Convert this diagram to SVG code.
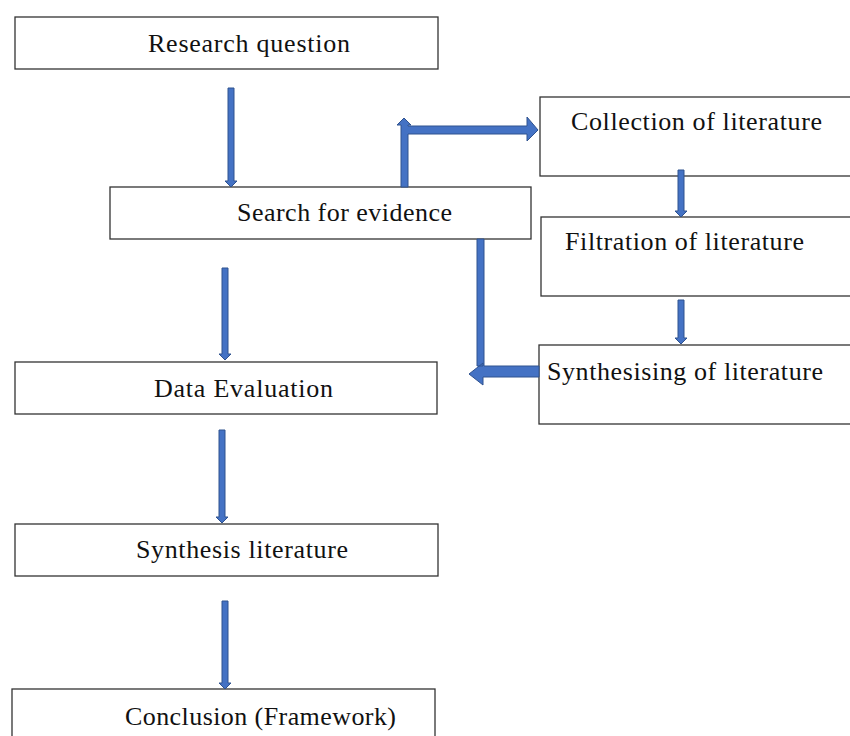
<svg xmlns="http://www.w3.org/2000/svg" width="850" height="736" viewBox="0 0 850 736">
<style>
.box{fill:#fff;stroke:#333;stroke-width:1.3}
.t{font-family:"Liberation Serif","DejaVu Serif",serif;font-size:26px;fill:#111}
.ar{fill:#4472C4;stroke:#2F528F;stroke-width:1}
</style>
<rect width="850" height="736" fill="#fff"/>
<g id="research-question"><rect class="box" x="15" y="17" width="423" height="52"/><text class="t" x="148" y="52" textLength="202" lengthAdjust="spacing">Research question</text></g>
<g id="search-for-evidence"><rect class="box" x="110" y="187" width="421" height="52"/><text class="t" x="237" y="221" textLength="215" lengthAdjust="spacing">Search for evidence</text></g>
<g id="collection"><rect class="box" x="540" y="97" width="320" height="79"/><text class="t" x="571" y="130" textLength="251" lengthAdjust="spacing">Collection of literature</text></g>
<g id="filtration"><rect class="box" x="541" y="217" width="320" height="79"/><text class="t" x="565" y="250" textLength="239" lengthAdjust="spacing">Filtration of literature</text></g>
<g id="synthesising"><rect class="box" x="539" y="345" width="320" height="79"/><text class="t" x="547" y="380" textLength="276" lengthAdjust="spacing">Synthesising of literature</text></g>
<g id="data-evaluation"><rect class="box" x="15" y="362" width="422" height="52"/><text class="t" x="154" y="397" textLength="179" lengthAdjust="spacing">Data Evaluation</text></g>
<g id="synthesis-literature"><rect class="box" x="15" y="524" width="423" height="52"/><text class="t" x="136" y="558" textLength="212" lengthAdjust="spacing">Synthesis literature</text></g>
<g id="conclusion"><rect class="box" x="12" y="689" width="423" height="60"/><text class="t" x="125" y="725" textLength="271" lengthAdjust="spacing">Conclusion (Framework)</text></g>
<g id="connectors">
<path class="ar" d="M228,88 H234 V181 H237 L231,187 L225,181 H228 Z"/>
<path class="ar" d="M222,268 H228 V354 H231 L225,360 L219,354 H222 Z"/>
<path class="ar" d="M219,430 H225 V517 H228 L222,523 L216,517 H219 Z"/>
<path class="ar" d="M222,601 H228 V683 H231 L225,689 L219,683 H222 Z"/>
<path class="ar" d="M678,170 H684 V211 H687 L681,217 L675,211 H678 Z"/>
<path class="ar" d="M678,300 H684 V338 H687 L681,344 L675,338 H678 Z"/>
<path class="ar" d="M401,187 V125 H397 L404,118 L411,125 H408 V126 H527 V117 L538,130 L527,141 V134 H408 V187 Z"/>
<path class="ar" d="M477,239 H484 V366 H539 V377 H483 V385 L469,374 L483,363 V366 H477 Z"/>
</g>
</svg>
